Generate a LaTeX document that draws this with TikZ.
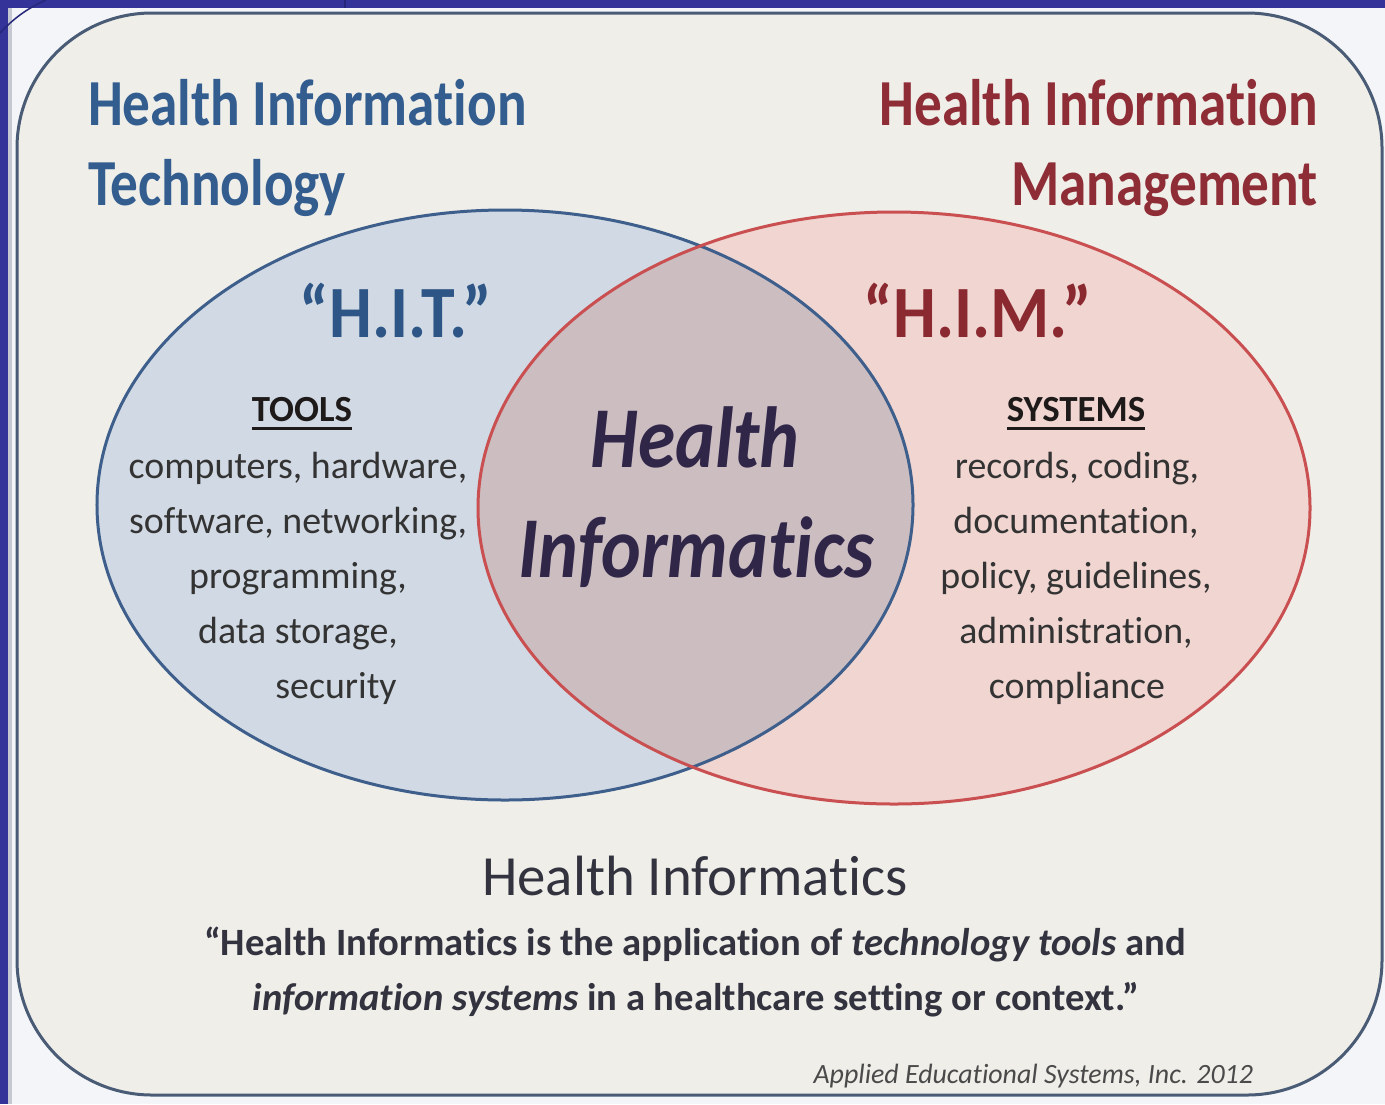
\documentclass[tikz,border=0pt]{standalone}
\usepackage{fontspec}
\usepackage{graphicx}
\setmainfont{Carlito}[Ligatures={NoCommon,NoContextual}]
\definecolor{outerbg}{HTML}{F3F5F8}
\definecolor{band}{HTML}{33339A}
\definecolor{bandline}{HTML}{26267A}
\definecolor{strip}{HTML}{C5C8D0}
\definecolor{boxbg}{HTML}{EFEEE9}
\definecolor{boxline}{HTML}{4A5C75}
\definecolor{bluefill}{HTML}{D1DAE4}
\definecolor{redfill}{HTML}{F0D5D1}
\definecolor{overlapfill}{HTML}{CCBDC1}
\definecolor{bluestroke}{HTML}{3E5E8C}
\definecolor{redstroke}{HTML}{C94F50}
\definecolor{titleblue}{HTML}{325D8E}
\definecolor{titlered}{HTML}{8F2D37}
\definecolor{hitblue}{HTML}{2D5585}
\definecolor{himred}{HTML}{8A2A30}
\definecolor{hicenter}{HTML}{2F2648}
\definecolor{bodytext}{HTML}{333333}
\definecolor{subhead}{HTML}{1E1A1A}
\definecolor{headtext}{HTML}{33333F}
\definecolor{credittext}{HTML}{4A4A4A}
\newcommand\myul[1]{\setbox0\hbox{#1}\rlap{\raisebox{-9bp}{\rule{\wd0}{3.5bp}}}\box0}
\tikzset{
  txt/.style={inner sep=0pt, outer sep=0pt},
  titleB/.style={txt, text=titleblue, font=\fontsize{66}{66}\selectfont\bfseries},
  titleR/.style={txt, text=titlered, font=\fontsize{66}{66}\selectfont\bfseries},
  abbrB/.style={txt, text=hitblue, font=\fontsize{74}{74}\selectfont\bfseries},
  abbrR/.style={txt, text=himred, font=\fontsize{74}{74}\selectfont\bfseries},
  centre/.style={txt, text=hicenter, font=\fontsize{87}{87}\selectfont\bfseries\itshape},
  head/.style={txt, text=subhead, font=\fontsize{37}{37}\selectfont\bfseries},
  body/.style={txt, text=bodytext, font=\fontsize{38}{38}\selectfont},
  bighead/.style={txt, text=headtext, font=\fontsize{57}{57}\selectfont},
  quote/.style={txt, text=headtext, font=\fontsize{38.8}{38.8}\selectfont\bfseries},
  credit/.style={txt, text=credittext, font=\fontsize{28}{28}\selectfont\itshape},
  ellB/.style={line width=3bp, draw=bluestroke},
  ellR/.style={line width=3bp, draw=redstroke},
}
\begin{document}
\begin{tikzpicture}[x=1bp,y=-1bp]
\useasboundingbox (0,0) rectangle (1385,1104);
% frame
\fill[outerbg] (0,0) rectangle (1385,1104);
\fill[band] (0,0) rectangle (1385,8);
\fill[band] (0,0) rectangle (8,1104);
\fill[strip] (8,8) rectangle (12,1104);
\draw[bandline, line width=1.5bp] (0,33) .. controls (14,18) and (28,8) .. (46,0);
\draw[bandline, line width=1.5bp] (345,0) -- (345,8);
% rounded box
\draw[boxline, line width=3bp, fill=boxbg, rounded corners=135bp] (17,13) rectangle (1382,1095);
% ellipses
\fill[bluefill] (505,505) ellipse [x radius=408bp, y radius=295bp];
\fill[redfill] (894,508) ellipse [x radius=416bp, y radius=296bp];
\begin{scope}
  \clip (505,505) ellipse [x radius=408bp, y radius=295bp];
  \fill[overlapfill] (894,508) ellipse [x radius=416bp, y radius=296bp];
\end{scope}
\draw[ellB] (505,505) ellipse [x radius=408bp, y radius=295bp];
\draw[ellR] (894,508) ellipse [x radius=416bp, y radius=296bp];
% titles
\node[titleB, anchor=base west] (t1) at (88,125) {\scalebox{0.84}[1]{Health Information}};
\node[titleB, anchor=base west] (t2) at (88,205) {\scalebox{0.84}[1]{Technology}};
\node[titleR, anchor=base east] (t3) at (1318,125) {\scalebox{0.84}[1]{Health Information}};
\node[titleR, anchor=base east] (t4) at (1318,205) {\scalebox{0.84}[1]{Management}};
% abbreviations
\node[abbrB, anchor=base] (hit) at (396,337) {\scalebox{0.92}[1]{“H.I.T.”}};
\node[abbrR, anchor=base] (him) at (978,337) {\scalebox{0.92}[1]{“H.I.M.”}};
% centre
\node[centre, anchor=base] (c1) at (695,467) {\scalebox{0.87}[1]{Health}};
\node[centre, anchor=base] (c2) at (696,577) {\scalebox{0.87}[1]{Informatics}};
% left block
\node[head, anchor=base] (tools) at (302,421) {\myul{TOOLS}};
\node[body, anchor=base] (l1) at (298,478) {computers, hardware,};
\node[body, anchor=base] (l2) at (298,533) {software, networking,};
\node[body, anchor=base] (l3) at (298,588) {programming,};
\node[body, anchor=base] (l4) at (298,643) {data storage,};
\node[body, anchor=base] (l5) at (336,698) {security};
% right block
\node[head, anchor=base] (systems) at (1076,421) {\myul{SYSTEMS}};
\node[body, anchor=base] (r1) at (1077,478) {records, coding,};
\node[body, anchor=base] (r2) at (1076,533) {documentation,};
\node[body, anchor=base] (r3) at (1076,588) {policy, guidelines,};
\node[body, anchor=base] (r4) at (1076,643) {administration,};
\node[body, anchor=base] (r5) at (1077,698) {compliance};
% bottom
\node[bighead, anchor=base] (bh) at (695,895) {Health Informatics};
\node[quote, anchor=base] (q1) at (695,955) {“Health Informatics is the application of \textit{technology tools} and};
\node[quote, anchor=base] (q2) at (696,1010) {\textit{information systems} in a healthcare setting or context.”};
\node[credit, anchor=base east] (cr) at (1253,1083) {Applied Educational Systems, Inc. 2012};
\end{tikzpicture}
\end{document}
